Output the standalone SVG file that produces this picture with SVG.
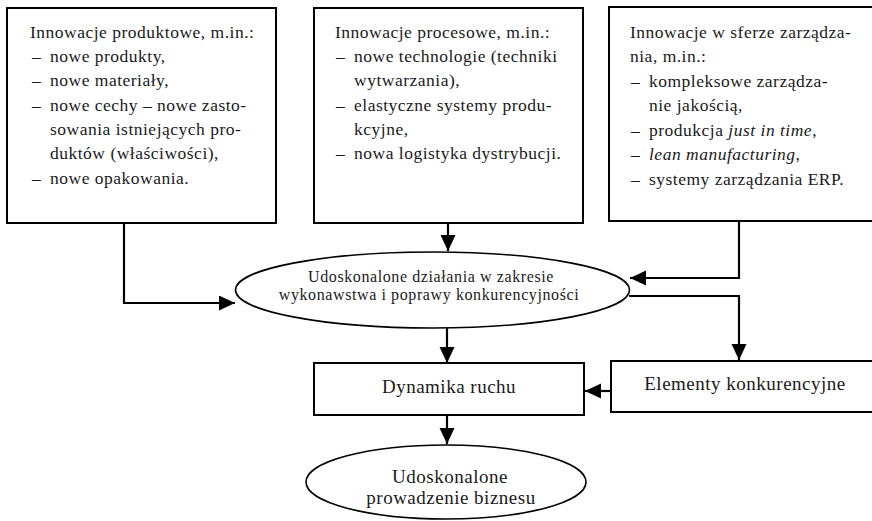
<svg xmlns="http://www.w3.org/2000/svg" width="872" height="521" viewBox="0 0 872 521">
<style>
.box{fill:#fff;stroke:#000;stroke-width:2}
.ell{fill:#fff;stroke:#000;stroke-width:1.6}
.con{fill:none;stroke:#000;stroke-width:2.2}
text{font-family:"Liberation Serif","Times New Roman",serif;fill:#1a1a1a}
.t{font-size:17.5px;letter-spacing:0.5px}
.m{font-size:16px;letter-spacing:0.6px;text-anchor:middle}
.b{font-size:19px;letter-spacing:0.5px;text-anchor:middle}
.i{font-style:italic}
</style>
<defs>
<marker id="ah" markerUnits="userSpaceOnUse" markerWidth="17" markerHeight="16" refX="16" refY="7.5" orient="auto">
<path d="M0,0 L16,7.5 L0,15 Z" fill="#000"/>
</marker>
</defs>
<rect width="872" height="521" fill="#fff"/>
<g id="box-produktowe">
<rect class="box" x="7" y="8" width="269" height="215"/>
<text class="t" x="30" y="38">Innowacje produktowe, m.in.:</text>
<text class="t" x="32" y="62">–</text><text class="t" x="50" y="62">nowe produkty,</text>
<text class="t" x="32" y="86">–</text><text class="t" x="50" y="86">nowe materiały,</text>
<text class="t" x="32" y="111">–</text><text class="t" x="50" y="111">nowe cechy – nowe zasto-</text>
<text class="t" x="50" y="135">sowania istniejących pro-</text>
<text class="t" x="50" y="159">duktów (właściwości),</text>
<text class="t" x="32" y="184">–</text><text class="t" x="50" y="184">nowe opakowania.</text>
</g>
<g id="box-procesowe">
<rect class="box" x="314" y="8" width="269" height="215"/>
<text class="t" x="335" y="38">Innowacje procesowe, m.in.:</text>
<text class="t" x="336" y="62">–</text><text class="t" x="354" y="62">nowe technologie (techniki</text>
<text class="t" x="354" y="86">wytwarzania),</text>
<text class="t" x="336" y="111">–</text><text class="t" x="354" y="111">elastyczne systemy produ-</text>
<text class="t" x="354" y="135">kcyjne,</text>
<text class="t" x="336" y="159">–</text><text class="t" x="354" y="159">nowa logistyka dystrybucji.</text>
</g>
<g id="box-zarzadzanie">
<rect class="box" x="609" y="7" width="272" height="214"/>
<text class="t" x="630" y="38">Innowacje w sferze zarządza-</text>
<text class="t" x="630" y="62">nia, m.in.:</text>
<text class="t" x="631" y="87">–</text><text class="t" x="649" y="87">kompleksowe zarządza-</text>
<text class="t" x="649" y="111">nie jakością,</text>
<text class="t" x="631" y="136">–</text><text class="t" x="649" y="136">produkcja <tspan class="i">just in time</tspan>,</text>
<text class="t" x="631" y="160">–</text><text class="t" x="649" y="160"><tspan class="i">lean manufacturing</tspan>,</text>
<text class="t" x="631" y="185">–</text><text class="t" x="649" y="185">systemy zarządzania ERP.</text>
</g>
<g id="connectors">
<path class="con" d="M124,223 V303 H235" marker-end="url(#ah)"/>
<path class="con" d="M448,223 V251" marker-end="url(#ah)"/>
<path class="con" d="M739,221 V278 H630" marker-end="url(#ah)"/>
<path class="con" d="M629,296 H739 V360" marker-end="url(#ah)"/>
<path class="con" d="M447,328 V363" marker-end="url(#ah)"/>
<path class="con" d="M611,391 H585" marker-end="url(#ah)"/>
<path class="con" d="M447,415 V444" marker-end="url(#ah)"/>
</g>
<g id="ellipse-dzialania">
<ellipse class="ell" cx="432.5" cy="290" rx="197" ry="38"/>
<text class="m" x="431" y="282">Udoskonalone działania w zakresie</text>
<text class="m" x="429" y="300">wykonawstwa i poprawy konkurencyjności</text>
</g>
<g id="box-dynamika">
<rect class="box" x="314" y="363" width="270" height="52"/>
<text class="b" x="449" y="393">Dynamika ruchu</text>
</g>
<g id="box-elementy">
<rect class="box" x="611" y="361" width="270" height="51"/>
<text class="b" x="745" y="390">Elementy konkurencyjne</text>
</g>
<g id="ellipse-biznes">
<ellipse class="ell" cx="446" cy="482" rx="140" ry="37"/>
<text class="b" x="450" y="483">Udoskonalone</text>
<text class="b" x="451" y="504">prowadzenie biznesu</text>
</g>
</svg>
